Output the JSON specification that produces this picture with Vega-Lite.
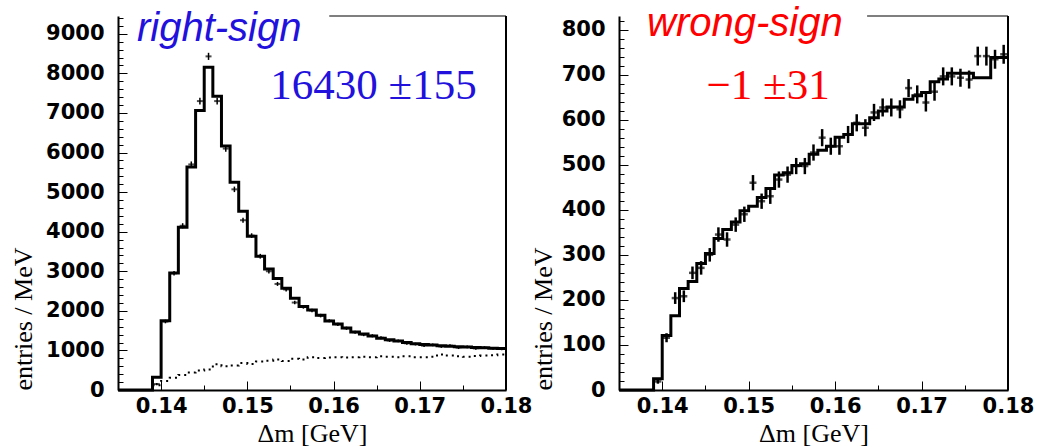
{
  "$schema": "https://vega.github.io/schema/vega-lite/v6.json",
  "background": "white",
  "padding": {"left": 10, "top": 3, "right": 5, "bottom": 0},
  "bounds": "flush",
  "spacing": 113,
  "config": {
    "view": {"stroke": null},
    "axis": {
      "grid": false, "domainColor": "black", "domainWidth": 2, "tickColor": "black", "tickWidth": 1,
      "labelFont": "DejaVu Sans", "labelFontWeight": "bold", "labelFontSize": 21, "labelColor": "black",
      "titleFont": "Liberation Serif", "titleFontWeight": "normal", "titleFontSize": 26, "titleColor": "black",
      "labelFlush": false, "labelOverlap": false, "tickCount": 200
    }
  },
  "datasets": {
    "histRS": [
      {"x": 0.135, "v": 0}, {"x": 0.136, "v": 0}, {"x": 0.137, "v": 0}, {"x": 0.138, "v": 0},
      {"x": 0.139, "v": 320}, {"x": 0.140, "v": 1752}, {"x": 0.141, "v": 2957}, {"x": 0.142, "v": 4111},
      {"x": 0.143, "v": 5636}, {"x": 0.144, "v": 7060}, {"x": 0.145, "v": 8155}, {"x": 0.146, "v": 7422},
      {"x": 0.147, "v": 6167}, {"x": 0.148, "v": 5249}, {"x": 0.149, "v": 4516}, {"x": 0.150, "v": 3884},
      {"x": 0.151, "v": 3378}, {"x": 0.152, "v": 3060}, {"x": 0.153, "v": 2820}, {"x": 0.154, "v": 2570},
      {"x": 0.155, "v": 2320}, {"x": 0.156, "v": 2110}, {"x": 0.157, "v": 2020}, {"x": 0.158, "v": 1890},
      {"x": 0.159, "v": 1743}, {"x": 0.160, "v": 1667}, {"x": 0.161, "v": 1567}, {"x": 0.162, "v": 1465},
      {"x": 0.163, "v": 1415}, {"x": 0.164, "v": 1364}, {"x": 0.165, "v": 1310}, {"x": 0.166, "v": 1270},
      {"x": 0.167, "v": 1238}, {"x": 0.168, "v": 1200}, {"x": 0.169, "v": 1170}, {"x": 0.170, "v": 1150},
      {"x": 0.171, "v": 1135}, {"x": 0.172, "v": 1115}, {"x": 0.173, "v": 1105}, {"x": 0.174, "v": 1090},
      {"x": 0.175, "v": 1085}, {"x": 0.176, "v": 1075}, {"x": 0.177, "v": 1065}, {"x": 0.178, "v": 1058},
      {"x": 0.179, "v": 1050}, {"x": 0.180, "v": 1050}
    ],
    "bgRS": [
      {"x": 0.139, "v": 120}, {"x": 0.140, "v": 230}, {"x": 0.141, "v": 310}, {"x": 0.142, "v": 380},
      {"x": 0.143, "v": 440}, {"x": 0.144, "v": 490}, {"x": 0.145, "v": 520}, {"x": 0.146, "v": 650},
      {"x": 0.147, "v": 600}, {"x": 0.148, "v": 620}, {"x": 0.149, "v": 680}, {"x": 0.150, "v": 660},
      {"x": 0.151, "v": 720}, {"x": 0.152, "v": 740}, {"x": 0.153, "v": 770}, {"x": 0.154, "v": 730},
      {"x": 0.155, "v": 790}, {"x": 0.156, "v": 770}, {"x": 0.157, "v": 830}, {"x": 0.158, "v": 810},
      {"x": 0.159, "v": 820}, {"x": 0.160, "v": 830}, {"x": 0.161, "v": 820}, {"x": 0.162, "v": 830},
      {"x": 0.163, "v": 840}, {"x": 0.164, "v": 830}, {"x": 0.165, "v": 850}, {"x": 0.166, "v": 840},
      {"x": 0.167, "v": 830}, {"x": 0.168, "v": 850}, {"x": 0.169, "v": 830}, {"x": 0.170, "v": 830},
      {"x": 0.171, "v": 840}, {"x": 0.172, "v": 900}, {"x": 0.173, "v": 870}, {"x": 0.174, "v": 850},
      {"x": 0.175, "v": 840}, {"x": 0.176, "v": 860}, {"x": 0.177, "v": 870}, {"x": 0.178, "v": 880},
      {"x": 0.179, "v": 900}, {"x": 0.180, "v": 900}
    ],
    "ptsRS": [
      {"c": 0.1395, "v": 150, "e": 30}, {"c": 0.1405, "v": 1730, "e": 45}, {"c": 0.1415, "v": 2950, "e": 55},
      {"c": 0.1425, "v": 4150, "e": 65}, {"c": 0.1435, "v": 5700, "e": 75}, {"c": 0.1445, "v": 7300, "e": 85},
      {"c": 0.1455, "v": 8430, "e": 90}, {"c": 0.1465, "v": 7300, "e": 85}, {"c": 0.1475, "v": 6100, "e": 80},
      {"c": 0.1485, "v": 5070, "e": 70}, {"c": 0.1495, "v": 4290, "e": 65}, {"c": 0.1505, "v": 3900, "e": 60},
      {"c": 0.1515, "v": 3380, "e": 60}, {"c": 0.1525, "v": 3000, "e": 55}, {"c": 0.1535, "v": 2680, "e": 50},
      {"c": 0.1545, "v": 2540, "e": 50}, {"c": 0.1555, "v": 2210, "e": 45}, {"c": 0.1565, "v": 2100, "e": 45},
      {"c": 0.1575, "v": 2010, "e": 45}, {"c": 0.1585, "v": 1880, "e": 45}, {"c": 0.1595, "v": 1750, "e": 40},
      {"c": 0.1605, "v": 1660, "e": 40}, {"c": 0.1615, "v": 1560, "e": 40}, {"c": 0.1625, "v": 1460, "e": 40},
      {"c": 0.1635, "v": 1400, "e": 40}, {"c": 0.1645, "v": 1370, "e": 40}, {"c": 0.1655, "v": 1320, "e": 35},
      {"c": 0.1665, "v": 1250, "e": 35}, {"c": 0.1675, "v": 1240, "e": 35}, {"c": 0.1685, "v": 1180, "e": 35},
      {"c": 0.1695, "v": 1160, "e": 35}, {"c": 0.1705, "v": 1120, "e": 35}, {"c": 0.1715, "v": 1140, "e": 35},
      {"c": 0.1725, "v": 1100, "e": 35}, {"c": 0.1735, "v": 1120, "e": 35}, {"c": 0.1745, "v": 1070, "e": 35},
      {"c": 0.1755, "v": 1090, "e": 35}, {"c": 0.1765, "v": 1050, "e": 35}, {"c": 0.1775, "v": 1070, "e": 35},
      {"c": 0.1785, "v": 1050, "e": 35}, {"c": 0.1795, "v": 1040, "e": 35}
    ],
    "histWS": [
      {"x": 0.135, "v": 0}, {"x": 0.136, "v": 0}, {"x": 0.137, "v": 0}, {"x": 0.138, "v": 0},
      {"x": 0.139, "v": 25}, {"x": 0.140, "v": 121}, {"x": 0.141, "v": 165}, {"x": 0.142, "v": 225},
      {"x": 0.143, "v": 241}, {"x": 0.144, "v": 281}, {"x": 0.145, "v": 303}, {"x": 0.146, "v": 336},
      {"x": 0.147, "v": 356}, {"x": 0.148, "v": 373}, {"x": 0.149, "v": 398}, {"x": 0.150, "v": 408},
      {"x": 0.151, "v": 427}, {"x": 0.152, "v": 447}, {"x": 0.153, "v": 477}, {"x": 0.154, "v": 482},
      {"x": 0.155, "v": 498}, {"x": 0.156, "v": 502}, {"x": 0.157, "v": 523}, {"x": 0.158, "v": 532},
      {"x": 0.159, "v": 541}, {"x": 0.160, "v": 561}, {"x": 0.161, "v": 567}, {"x": 0.162, "v": 591},
      {"x": 0.163, "v": 591}, {"x": 0.164, "v": 604}, {"x": 0.165, "v": 619}, {"x": 0.166, "v": 628},
      {"x": 0.167, "v": 628}, {"x": 0.168, "v": 645}, {"x": 0.169, "v": 653}, {"x": 0.170, "v": 660},
      {"x": 0.171, "v": 684}, {"x": 0.172, "v": 690}, {"x": 0.173, "v": 703}, {"x": 0.174, "v": 703},
      {"x": 0.175, "v": 703}, {"x": 0.176, "v": 693}, {"x": 0.177, "v": 693}, {"x": 0.178, "v": 738},
      {"x": 0.179, "v": 738}, {"x": 0.180, "v": 738}
    ],
    "ptsWS": [
      {"c": 0.1395, "v": 19, "e": 5}, {"c": 0.1405, "v": 116, "e": 10}, {"c": 0.1415, "v": 204, "e": 13},
      {"c": 0.1425, "v": 208, "e": 13}, {"c": 0.1435, "v": 260, "e": 14}, {"c": 0.1445, "v": 271, "e": 15},
      {"c": 0.1455, "v": 300, "e": 15}, {"c": 0.1465, "v": 345, "e": 16}, {"c": 0.1475, "v": 334, "e": 16},
      {"c": 0.1485, "v": 367, "e": 16}, {"c": 0.1495, "v": 390, "e": 17}, {"c": 0.1505, "v": 460, "e": 17},
      {"c": 0.1515, "v": 419, "e": 17}, {"c": 0.1525, "v": 430, "e": 17}, {"c": 0.1535, "v": 467, "e": 18},
      {"c": 0.1545, "v": 478, "e": 18}, {"c": 0.1555, "v": 497, "e": 18}, {"c": 0.1565, "v": 497, "e": 18},
      {"c": 0.1575, "v": 527, "e": 18}, {"c": 0.1585, "v": 560, "e": 19}, {"c": 0.1595, "v": 541, "e": 19},
      {"c": 0.1605, "v": 541, "e": 19}, {"c": 0.1615, "v": 567, "e": 19}, {"c": 0.1625, "v": 593, "e": 19},
      {"c": 0.1635, "v": 582, "e": 19}, {"c": 0.1645, "v": 616, "e": 19}, {"c": 0.1655, "v": 627, "e": 20},
      {"c": 0.1665, "v": 627, "e": 20}, {"c": 0.1675, "v": 623, "e": 20}, {"c": 0.1685, "v": 670, "e": 20},
      {"c": 0.1695, "v": 656, "e": 20}, {"c": 0.1705, "v": 638, "e": 20}, {"c": 0.1715, "v": 662, "e": 20},
      {"c": 0.1725, "v": 696, "e": 20}, {"c": 0.1735, "v": 696, "e": 20}, {"c": 0.1745, "v": 693, "e": 20},
      {"c": 0.1755, "v": 689, "e": 20}, {"c": 0.1765, "v": 741, "e": 21}, {"c": 0.1775, "v": 741, "e": 21},
      {"c": 0.1785, "v": 734, "e": 21}, {"c": 0.1795, "v": 745, "e": 21}
    ]
  },
  "hconcat": [
    {
      "width": 388, "height": 374,
      "layer": [
        {
          "data": {"name": "histRS"},
          "mark": {"type": "line", "interpolate": "step-after", "color": "black", "strokeWidth": 3},
          "encoding": {
            "x": {"field": "x", "type": "quantitative", "title": "Δm [GeV]", "scale": {"domain": [0.135, 0.18], "nice": false, "zero": false},
              "axis": {"values": [0.14, 0.145, 0.15, 0.155, 0.16, 0.165, 0.17, 0.175, 0.18], "tickCount": 200,
                "labelExpr": "round(datum.value*1000) % 10 == 0 ? format(datum.value, '.2f') : ''",
                "tickSize": {"condition": {"test": "round(datum.value*1000) % 10 == 0", "value": -9}, "value": -5},
                "labelFontSize": {"condition": {"test": "round(datum.value*1000) % 10 == 0", "value": 21}, "value": 0},
                "labelOverlap": false, "labelFlush": false,
                "labelPadding": 14, "titleY": 51, "titleBaseline": "alphabetic"}},
            "y": {"field": "v", "type": "quantitative", "title": "entries / MeV", "scale": {"domain": [0, 9450], "nice": false},
              "axis": {"values": [0,200,400,600,800,1000,1200,1400,1600,1800,2000,2200,2400,2600,2800,3000,3200,3400,3600,3800,4000,4200,4400,4600,4800,5000,5200,5400,5600,5800,6000,6200,6400,6600,6800,7000,7200,7400,7600,7800,8000,8200,8400,8600,8800,9000,9200,9400], "tickCount": 200,
                "labelExpr": "datum.value % 1000 == 0 ? format(datum.value, 'd') : ''",
                "tickSize": {"condition": {"test": "datum.value % 1000 == 0", "value": -9}, "value": -5},
                "labelFontSize": {"condition": {"test": "datum.value % 1000 == 0", "value": 21}, "value": 0},
                "labelOverlap": false, "labelFlush": false,
                "labelPadding": 23, "titleX": -95, "titleY": 374, "titleAlign": "left", "titleAngle": -90, "titleBaseline": "middle"}}
          }
        },
        {
          "data": {"name": "bgRS"},
          "mark": {"type": "line", "interpolate": "step-after", "color": "black", "strokeWidth": 2, "strokeDash": [2, 4]},
          "encoding": {
            "x": {"field": "x", "type": "quantitative", "title": "Δm [GeV]"},
            "y": {"field": "v", "type": "quantitative", "title": "entries / MeV"}
          }
        },
        {
          "data": {"name": "ptsRS"},
          "mark": {"type": "errorbar", "color": "black", "thickness": 1.5},
          "encoding": {
            "x": {"field": "c", "type": "quantitative", "title": "Δm [GeV]"},
            "y": {"field": "v", "type": "quantitative", "title": "entries / MeV"},
            "yError": {"field": "e"}
          }
        },
        {
          "data": {"name": "ptsRS"},
          "mark": {"type": "tick", "orient": "horizontal", "size": 6, "thickness": 2, "color": "black"},
          "encoding": {
            "x": {"field": "c", "type": "quantitative", "title": "Δm [GeV]"},
            "y": {"field": "v", "type": "quantitative", "title": "entries / MeV"}
          }
        },
        {
          "data": {"values": [{}]},
          "mark": {"type": "rule", "color": "black", "strokeWidth": 1.2},
          "encoding": {
            "x": {"datum": 0.1595, "title": "Δm [GeV]"}, "x2": {"datum": 0.18},
            "y": {"datum": 9450, "title": "entries / MeV"}
          }
        },
        {
          "data": {"values": [{}]},
          "mark": {"type": "rule", "color": "black", "strokeWidth": 2},
          "encoding": {
            "x": {"datum": 0.18, "title": "Δm [GeV]"},
            "y": {"datum": 0, "title": "entries / MeV"}, "y2": {"datum": 9450}
          }
        },
        {
          "data": {"values": [{}]},
          "mark": {"type": "text", "text": "right-sign", "font": "Liberation Sans", "fontStyle": "italic", "fontSize": 40, "color": "#2211dd", "align": "left", "baseline": "alphabetic"},
          "encoding": {
            "x": {"datum": 0.1372, "title": "Δm [GeV]"},
            "y": {"datum": 8817, "title": "entries / MeV"}
          }
        },
        {
          "data": {"values": [{}]},
          "mark": {"type": "text", "text": "16430 ±155", "font": "Liberation Serif", "fontSize": 43, "color": "#2211dd", "align": "center", "baseline": "alphabetic"},
          "encoding": {
            "x": {"datum": 0.16463, "title": "Δm [GeV]"},
            "y": {"datum": 7352, "title": "entries / MeV"}
          }
        }
      ]
    },
    {
      "width": 389, "height": 374,
      "layer": [
        {
          "data": {"name": "histWS"},
          "mark": {"type": "line", "interpolate": "step-after", "color": "black", "strokeWidth": 3},
          "encoding": {
            "x": {"field": "x", "type": "quantitative", "title": "Δm [GeV]", "scale": {"domain": [0.135, 0.18], "nice": false, "zero": false},
              "axis": {"values": [0.14, 0.145, 0.15, 0.155, 0.16, 0.165, 0.17, 0.175, 0.18], "tickCount": 200,
                "labelExpr": "round(datum.value*1000) % 10 == 0 ? format(datum.value, '.2f') : ''",
                "tickSize": {"condition": {"test": "round(datum.value*1000) % 10 == 0", "value": -9}, "value": -5},
                "labelFontSize": {"condition": {"test": "round(datum.value*1000) % 10 == 0", "value": 21}, "value": 0},
                "labelOverlap": false, "labelFlush": false,
                "labelPadding": 14, "titleY": 51, "titleBaseline": "alphabetic"}},
            "y": {"field": "v", "type": "quantitative", "title": "entries / MeV", "scale": {"domain": [0, 830], "nice": false},
              "axis": {"values": [0,20,40,60,80,100,120,140,160,180,200,220,240,260,280,300,320,340,360,380,400,420,440,460,480,500,520,540,560,580,600,620,640,660,680,700,720,740,760,780,800,820], "tickCount": 200,
                "labelExpr": "datum.value % 100 == 0 ? format(datum.value, 'd') : ''",
                "tickSize": {"condition": {"test": "datum.value % 100 == 0", "value": -9}, "value": -5},
                "labelFontSize": {"condition": {"test": "datum.value % 100 == 0", "value": 21}, "value": 0},
                "labelOverlap": false, "labelFlush": false,
                "labelPadding": 23, "titleX": -76, "titleY": 374, "titleAlign": "left", "titleAngle": -90, "titleBaseline": "middle"}}
          }
        },
        {
          "data": {"name": "ptsWS"},
          "mark": {"type": "errorbar", "color": "black", "thickness": 2.5},
          "encoding": {
            "x": {"field": "c", "type": "quantitative", "title": "Δm [GeV]"},
            "y": {"field": "v", "type": "quantitative", "title": "entries / MeV"},
            "yError": {"field": "e"}
          }
        },
        {
          "data": {"name": "ptsWS"},
          "mark": {"type": "tick", "orient": "horizontal", "size": 7, "thickness": 2.5, "color": "black"},
          "encoding": {
            "x": {"field": "c", "type": "quantitative", "title": "Δm [GeV]"},
            "y": {"field": "v", "type": "quantitative", "title": "entries / MeV"}
          }
        },
        {
          "data": {"values": [{}]},
          "mark": {"type": "rule", "color": "black", "strokeWidth": 1.2},
          "encoding": {
            "x": {"datum": 0.1637, "title": "Δm [GeV]"}, "x2": {"datum": 0.18},
            "y": {"datum": 830, "title": "entries / MeV"}
          }
        },
        {
          "data": {"values": [{}]},
          "mark": {"type": "rule", "color": "black", "strokeWidth": 2},
          "encoding": {
            "x": {"datum": 0.18, "title": "Δm [GeV]"},
            "y": {"datum": 0, "title": "entries / MeV"}, "y2": {"datum": 830}
          }
        },
        {
          "data": {"values": [{}]},
          "mark": {"type": "text", "text": "wrong-sign", "font": "Liberation Sans", "fontStyle": "italic", "fontSize": 40, "color": "#ff0000", "align": "left", "baseline": "alphabetic"},
          "encoding": {
            "x": {"datum": 0.13824, "title": "Δm [GeV]"},
            "y": {"datum": 786, "title": "entries / MeV"}
          }
        },
        {
          "data": {"values": [{}]},
          "mark": {"type": "text", "text": "−1 ±31", "font": "Liberation Serif", "fontSize": 43, "color": "#ff0000", "align": "center", "baseline": "alphabetic"},
          "encoding": {
            "x": {"datum": 0.15225, "title": "Δm [GeV]"},
            "y": {"datum": 646, "title": "entries / MeV"}
          }
        }
      ]
    }
  ]
}
